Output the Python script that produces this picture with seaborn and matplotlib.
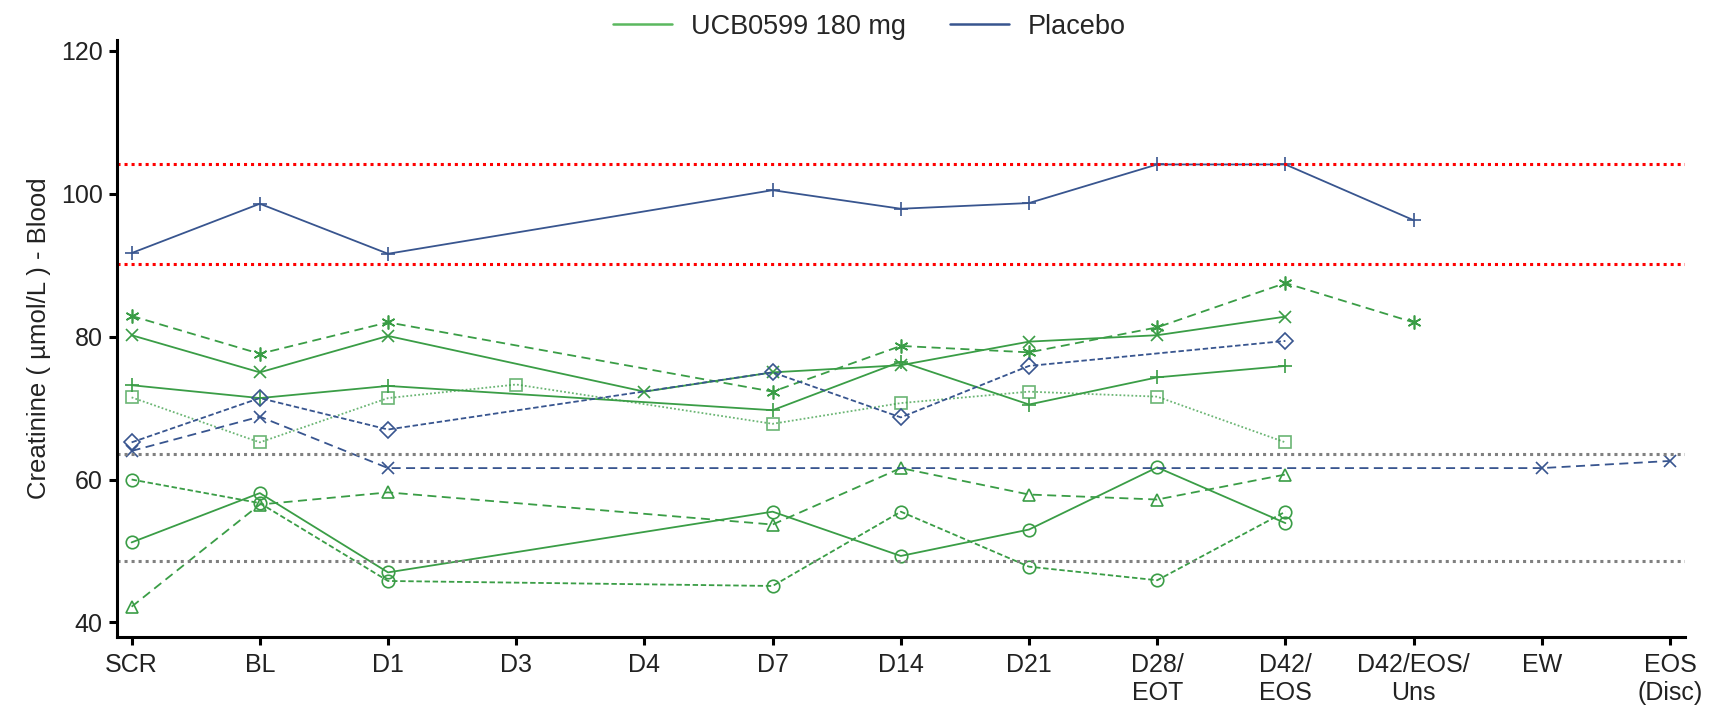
import numpy as np
import pandas as pd
import matplotlib
matplotlib.use("Agg")
import matplotlib.pyplot as plt
from matplotlib.lines import Line2D
import seaborn as sns

nan = np.nan
visits = ["SCR", "BL", "D1", "D3", "D4", "D7", "D14", "D21", "D28/\nEOT", "D42/\nEOS",
          "D42/EOS/\nUns", "EW", "EOS\n(Disc)"]

placebo_plus = [91.7, 98.6, 91.6, nan, nan, 100.5, 97.9, 98.7, 104.1, 104.1, 96.3, nan, nan]
placebo_diamond = [65.2, 71.4, 67.0, nan, nan, 75.0, 68.7, 75.9, nan, 79.4, nan, nan, nan]
placebo_x = [64.0, 68.8, 61.6, nan, nan, nan, nan, nan, nan, nan, nan, 61.6, 62.6]
ucb_star = [82.9, 77.6, 82.0, nan, nan, 72.3, 78.7, 77.8, 81.3, 87.5, 82.0, nan, nan]
ucb_x = [80.2, 75.0, 80.1, nan, 72.3, 75.0, 76.0, 79.3, 80.2, 82.8, nan, nan, nan]
ucb_plus = [73.2, 71.4, 73.1, nan, nan, 69.7, 76.5, 70.5, 74.3, 75.9, nan, nan, nan]
ucb_square = [71.5, 65.2, 71.4, 73.3, nan, 67.8, 70.7, 72.3, 71.6, 65.2, nan, nan, nan]
ucb_triangle = [42.2, 56.5, 58.2, nan, nan, 53.7, 61.6, 57.9, 57.2, 60.7, nan, nan, nan]
ucb_circle_a = [51.2, 58.1, 47.0, nan, nan, 55.5, 49.3, 53.0, 61.7, 53.9, nan, nan, nan]
ucb_circle_b = [60.0, 56.7, 45.8, nan, nan, 45.1, 55.5, 47.8, 45.9, 55.5, nan, nan, nan]

placebo_range = [90.1, 104.1]
ucb_range = [48.6, 63.6]

GREEN = "#3A9D46"
BLUE = "#38558F"

sns.set_theme(style="ticks")
plt.rcParams["font.family"] = ["Liberation Sans", "DejaVu Sans"]

fig = plt.figure(figsize=(17.15, 7.17), dpi=100)
ax = fig.add_axes([0.068, 0.112, 0.9145, 0.832])

series = [
    (ucb_square, GREEN, "s", (0, (1, 1.2)), 0.75, 9),
    (ucb_circle_b, GREEN, "o", (0, (3, 1.5)), 1.0, 9),
    (ucb_circle_a, GREEN, "o", "-", 1.0, 9),
    (ucb_triangle, GREEN, "^", (0, (5, 3)), 1.0, 9),
    (ucb_plus, GREEN, "+", "-", 1.0, 10),
    (ucb_x, GREEN, "x", "-", 1.0, 8),
    (ucb_star, GREEN, (6, 2, 0), (0, (5, 3)), 1.0, 10),
    (placebo_x, BLUE, "x", (0, (5, 3)), 1.0, 8),
    (placebo_diamond, BLUE, "D", (0, (3, 1.5)), 1.0, 8),
    (placebo_plus, BLUE, "+", "-", 1.0, 10),
]

for vals, col, mk, ls, al, ms in series:
    df = pd.DataFrame({"x": np.arange(len(visits)), "y": vals}).dropna()
    sns.lineplot(data=df, x="x", y="y", ax=ax, color=col, linestyle=ls, alpha=al,
                 marker=mk, markersize=ms, markerfacecolor="none",
                 markeredgecolor=col, markeredgewidth=1.2, linewidth=1.3,
                 estimator=None, sort=False)

for v in placebo_range:
    ax.axhline(v, color="#FF0000", linestyle=(0, (1, 1.3)), linewidth=2.2)
for v in ucb_range:
    ax.axhline(v, color="#808080", linestyle=(0, (1, 1.3)), linewidth=2.2)

ax.set_xlim(-0.117, 12.117)
ax.set_ylim(38.0, 121.5)
ax.set_xticks(np.arange(len(visits)))
ax.set_xticklabels(visits)
ax.set_yticks([40, 60, 80, 100, 120])
ax.set_xlabel("")
ax.set_ylabel("Creatinine ( µmol/L ) - Blood", fontsize=18.5, color="#222222", labelpad=7)
ax.tick_params(axis="both", labelsize=18, colors="black", labelcolor="#222222",
               length=6, width=2.2, direction="out")
ax.tick_params(axis="x", pad=6)
ax.tick_params(axis="y", pad=4)
for s in ["left", "bottom"]:
    ax.spines[s].set_linewidth(2.2)
    ax.spines[s].set_color("black")
for s in ["top", "right"]:
    ax.spines[s].set_visible(False)

handles = [Line2D([0], [0], color="#5BB85F", linewidth=1.8),
           Line2D([0], [0], color=BLUE, linewidth=1.8)]
fig.legend(handles, ["UCB0599 180 mg", "Placebo"], loc="upper center",
           bbox_to_anchor=(0.507, 1.015), ncol=2, frameon=False, fontsize=19.5,
           handlelength=2.2, handletextpad=0.7, columnspacing=1.6)

fig.savefig("out.png", dpi=100)
